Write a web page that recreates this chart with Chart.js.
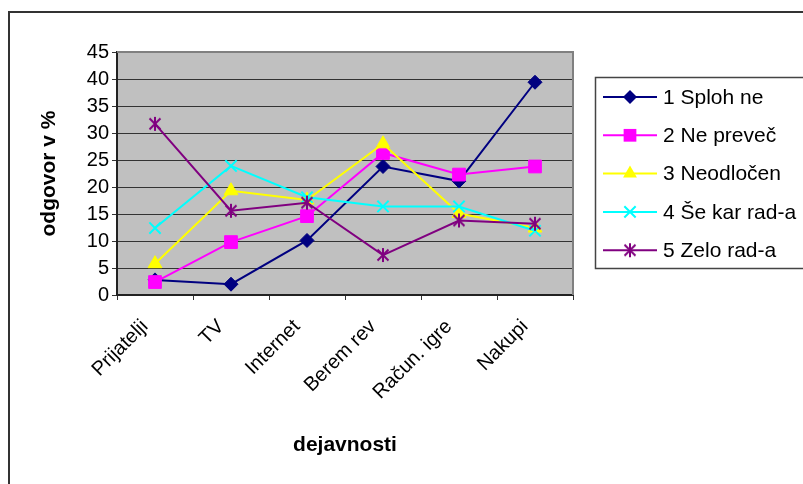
<!DOCTYPE html>
<html><head><meta charset="utf-8">
<script src="https://cdn.jsdelivr.net/npm/chart.js@4/dist/chart.umd.min.js"></script>
<style>html,body{margin:0;padding:0;background:#fff}#wrap{width:803px;height:484px;position:relative}</style>
</head><body><div id="wrap"><canvas id="c" width="803" height="484"></canvas></div>
<script>
const categories = ["Prijatelji", "TV", "Internet", "Berem revije", "Računalniške igre", "Nakupi"];
const tickLabels = ["Prijatelji", "TV", "Internet", "Berem rev", "Račun. igre", "Nakupi"];
const seriesNames = ["1 Sploh ne", "2 Ne preveč", "3 Neodločen", "4 Še kar rad-a", "5 Zelo rad-a"];
const splohNe   = [2.8, 2.0, 10.1, 23.8, 21.1, 39.4];
const nePrevec  = [2.4, 9.8, 14.6, 26.3, 22.3, 23.8];
const neodlocen = [5.8, 19.3, 17.6, 28.0, 15.1, 12.4];
const seKarRada = [12.4, 23.9, 18.1, 16.4, 16.4, 11.9];
const zeloRada  = [31.7, 15.6, 17.1, 7.4, 13.8, 13.2];
const yMin = 0, yMax = 45, yStep = 5;
const yTitle = "odgovor v %";
const xTitle = "dejavnosti";

const colors = ["#000080", "#FF00FF", "#FFFF00", "#00FFFF", "#800080"];

function makeStar(color) {
  const c = document.createElement('canvas');
  c.width = 16; c.height = 16;
  const g = c.getContext('2d');
  g.strokeStyle = color; g.lineWidth = 2;
  g.beginPath();
  g.moveTo(2.5, 2.5); g.lineTo(13.5, 13.5);
  g.moveTo(13.5, 2.5); g.lineTo(2.5, 13.5);
  g.moveTo(8, 1); g.lineTo(8, 15);
  g.stroke();
  return c;
}
const star = makeStar(colors[4]);

const styles = [
  {pointStyle: 'rectRot', radius: 7},
  {pointStyle: 'rect', radius: 9},
  {pointStyle: 'triangle', radius: 8},
  {pointStyle: 'crossRot', radius: 8},
  {pointStyle: star, radius: 8}
];
const values = [splohNe, nePrevec, neodlocen, seKarRada, zeloRada];

const datasets = values.map((v, i) => ({
  label: seriesNames[i],
  data: v,
  borderColor: colors[i],
  backgroundColor: colors[i],
  borderWidth: 2,
  pointStyle: styles[i].pointStyle,
  pointRadius: styles[i].radius,
  pointHoverRadius: styles[i].radius,
  pointBackgroundColor: colors[i],
  pointBorderColor: colors[i],
  pointBorderWidth: i === 3 ? 2 : 1,
  tension: 0,
  order: 5 - i
}));

const bgPlugin = {
  id: 'bg',
  beforeDraw(chart) {
    const {ctx, chartArea: a} = chart;
    ctx.save();
    ctx.fillStyle = '#fff';
    ctx.fillRect(0, 0, chart.width, chart.height);
    ctx.fillStyle = '#C0C0C0';
    ctx.fillRect(a.left, a.top, a.right - a.left, a.bottom - a.top);
    ctx.strokeStyle = '#333';
    ctx.lineWidth = 2;
    ctx.beginPath();
    ctx.moveTo(9, chart.height + 2);
    ctx.lineTo(9, 12);
    ctx.lineTo(chart.width + 2, 12);
    ctx.stroke();
    ctx.restore();
  },
  beforeDatasetsDraw(chart) {
    const {ctx, chartArea: a} = chart;
    ctx.save();
    ctx.strokeStyle = '#808080';
    ctx.lineWidth = 2;
    ctx.beginPath();
    ctx.moveTo(a.left, a.top);
    ctx.lineTo(a.right, a.top);
    ctx.lineTo(a.right, a.bottom);
    ctx.stroke();
    ctx.restore();
  }
};

function drawMarker(ctx, i, x, y) {
  const s = styles[i];
  const r = s.radius;
  ctx.save();
  ctx.fillStyle = colors[i];
  ctx.strokeStyle = colors[i];
  ctx.lineWidth = 2;
  ctx.beginPath();
  if (s.pointStyle === 'rectRot') {
    ctx.moveTo(x, y - r); ctx.lineTo(x + r, y); ctx.lineTo(x, y + r); ctx.lineTo(x - r, y); ctx.closePath(); ctx.fill();
  } else if (s.pointStyle === 'rect') {
    const h = r * Math.SQRT1_2; ctx.fillRect(x - h, y - h, 2 * h, 2 * h);
  } else if (s.pointStyle === 'triangle') {
    ctx.moveTo(x, y - r);
    ctx.lineTo(x + r * Math.sin(2 * Math.PI / 3), y - r * Math.cos(2 * Math.PI / 3));
    ctx.lineTo(x + r * Math.sin(4 * Math.PI / 3), y - r * Math.cos(4 * Math.PI / 3));
    ctx.closePath(); ctx.fill();
  } else if (s.pointStyle === 'crossRot') {
    const h = r * Math.SQRT1_2;
    ctx.moveTo(x - h, y - h); ctx.lineTo(x + h, y + h);
    ctx.moveTo(x + h, y - h); ctx.lineTo(x - h, y + h); ctx.stroke();
  } else {
    ctx.drawImage(s.pointStyle, x - 8, y - 8);
  }
  ctx.restore();
}

const legendPlugin = {
  id: 'boxLegend',
  afterDraw(chart) {
    const ctx = chart.ctx;
    ctx.save();
    ctx.strokeStyle = '#444';
    ctx.lineWidth = 1.5;
    ctx.beginPath();
    ctx.moveTo(chart.width + 2, 77.5);
    ctx.lineTo(595.5, 77.5);
    ctx.lineTo(595.5, 268.5);
    ctx.lineTo(chart.width + 2, 268.5);
    ctx.stroke();
    ctx.font = '21px Arial, "Liberation Sans", sans-serif';
    ctx.fillStyle = '#000';
    ctx.textBaseline = 'middle';
    chart.data.datasets.forEach((ds, i) => {
      const y = 97 + i * 38.3;
      ctx.strokeStyle = ds.borderColor;
      ctx.lineWidth = 2;
      ctx.beginPath(); ctx.moveTo(603, y); ctx.lineTo(657, y); ctx.stroke();
      drawMarker(ctx, i, 630, y);
      ctx.fillStyle = '#000';
      ctx.fillText(ds.label, 663, y + 1);
    });
    ctx.restore();
  }
};

new Chart(document.getElementById('c'), {
  type: 'line',
  data: { labels: tickLabels, datasets },
  options: {
    responsive: false,
    animation: false,
    devicePixelRatio: 1,
    layout: { padding: { left: 0, top: 52, right: 230, bottom: 0 } },
    plugins: { legend: { display: false }, tooltip: { enabled: false } },
    scales: {
      x: {
        offset: true,
        afterFit(scale) { scale.height = 189; },
        grid: { display: true, drawOnChartArea: false, drawTicks: true, tickLength: 5, color: '#333', offset: true },
        border: { display: true, color: '#222', width: 2 },
        ticks: {
          autoSkip: false, minRotation: 45, maxRotation: 45, padding: 15, labelOffset: -10,
          color: '#000', font: { family: 'Arial, "Liberation Sans", sans-serif', size: 20 }
        },
        title: {
          display: true, text: xTitle, color: '#000',
          font: { family: 'Arial, "Liberation Sans", sans-serif', size: 21, weight: 'bold' },
          padding: { top: 0, bottom: 26 }
        }
      },
      y: {
        min: yMin, max: yMax,
        afterFit(scale) { scale.width = 117; },
        grid: { color: '#333', lineWidth: 1, tickLength: 5, drawTicks: true },
        border: { display: true, color: '#222', width: 2 },
        ticks: {
          stepSize: yStep, padding: 3, color: '#000',
          font: { family: 'Arial, "Liberation Sans", sans-serif', size: 20 }
        },
        title: {
          display: true, text: yTitle, color: '#000',
          font: { family: 'Arial, "Liberation Sans", sans-serif', size: 21, weight: 'bold' },
          padding: { top: 37, bottom: 0 }
        }
      }
    }
  },
  plugins: [bgPlugin, legendPlugin]
});
</script>
</body></html>
